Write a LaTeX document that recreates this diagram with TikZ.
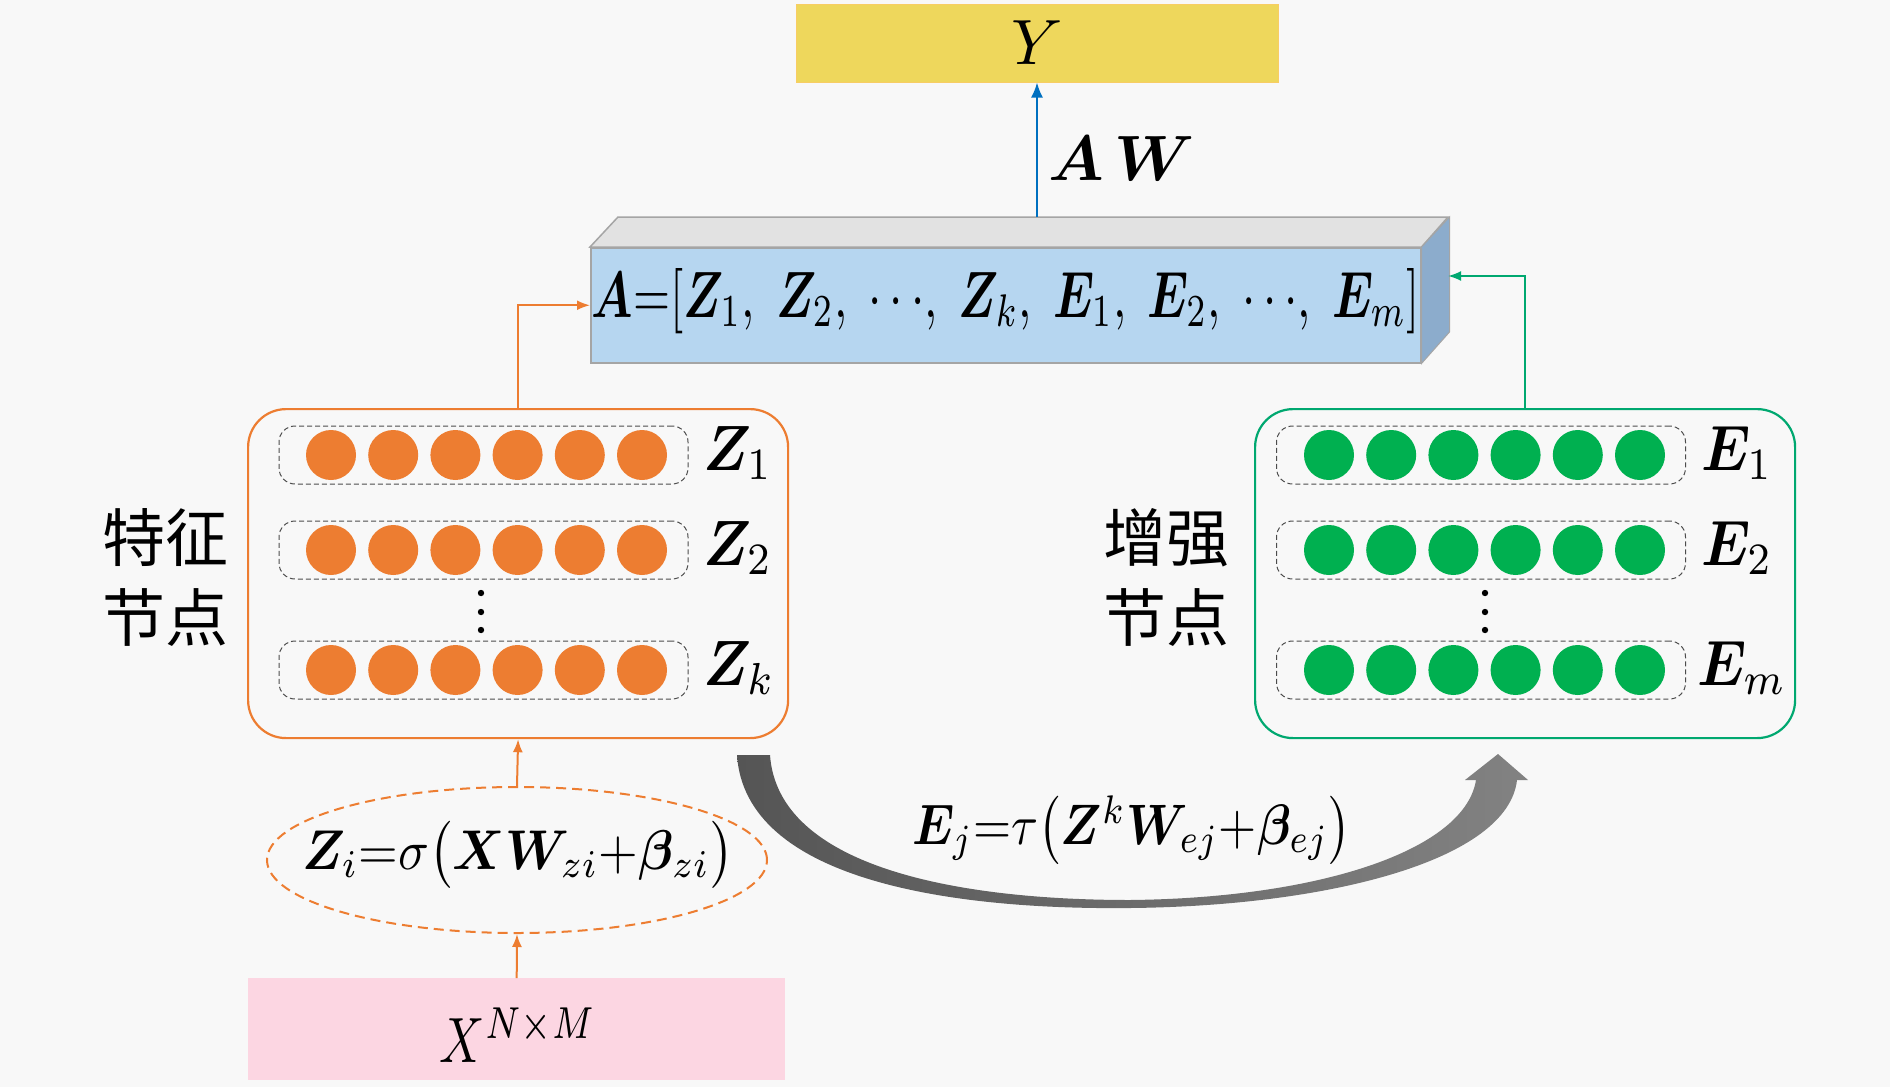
\documentclass[tikz,border=0pt]{standalone}
\usepackage{graphicx}
\usepackage{amsmath,bm}
\usepackage{fontspec}
\newfontfamily\cjk{Noto Sans CJK SC}
\usetikzlibrary{shapes.geometric,arrows.meta}
\newcommand{\mathL}[1]{\scalebox{5.7}[6.4]{$#1$}}
\newcommand{\mathN}[1]{\scalebox{6.4}{$#1$}}
\definecolor{bgc}{RGB}{248,248,248}
\definecolor{orangec}{RGB}{237,125,49}
\definecolor{greenc}{RGB}{0,176,80}
\definecolor{greenbord}{RGB}{0,168,112}
\definecolor{bluec}{RGB}{0,112,192}
\definecolor{yfill}{RGB}{238,215,92}
\definecolor{ybord}{RGB}{248,205,100}
\definecolor{pinkc}{RGB}{252,214,226}
\definecolor{frontc}{RGB}{182,214,240}
\definecolor{topc}{RGB}{226,226,226}
\definecolor{sidec}{RGB}{140,172,204}
\definecolor{edgec}{RGB}{165,165,165}
\definecolor{darkg}{RGB}{85,85,85}
\definecolor{lightg}{RGB}{130,130,130}
\begin{document}
\begin{tikzpicture}[x=1pt,y=-1pt,
  cjklabel/.style={font=\fontsize{63}{80}\selectfont\cjk, align=center},
  group/.style={line width=2.2pt, rounded corners=38pt, minimum width=540pt, minimum height=329pt, anchor=north west, inner sep=0pt},
  rowbox/.style={draw=black!70, dash pattern=on 5pt off 3pt, line width=1pt, rounded corners=16pt, minimum width=409pt, minimum height=58pt, inner sep=0pt},
  neuron/.style={circle, minimum size=50pt, inner sep=0pt},
  oarrow/.style={draw=orangec, line width=2pt, -{Latex[length=13pt,width=10pt]}},
  garrow/.style={draw=greenbord, line width=2pt, -{Latex[length=13pt,width=10pt]}},
  barrow/.style={draw=bluec, line width=2pt, -{Latex[length=15pt,width=12pt]}}
]
\fill[bgc] (0,0) rectangle (1890,1087);
\useasboundingbox (0,0) rectangle (1890,1087);

% Y box
\node[draw=ybord, fill=yfill, line width=1pt, minimum width=482pt, minimum height=78pt, inner sep=0pt] (Ybox) at (1037,43) {\mathN{Y}};

% A box (3D bar)
\node[fill=frontc, draw=edgec, line width=1.5pt, minimum width=830pt, minimum height=115pt, inner sep=0pt, anchor=north west] (Abox) at (590,247) {};
\filldraw[fill=topc, draw=edgec, line width=1.5pt] (Abox.north west) -- ++(28,-30) -- ++(830,0) -- (Abox.north east) -- cycle;
\filldraw[fill=sidec, draw=edgec, line width=1pt] (Abox.north east) -- ++(28,-30) -- ++(0,115) -- (Abox.south east) -- cycle;
\node[inner sep=0pt, anchor=base] (Atext) at (1006,317) {\resizebox{828pt}{49pt}{$\bm{A}{=}[\bm{Z}_1,\;\bm{Z}_2,\;{\cdots},\;\bm{Z}_k,\;\bm{E}_1,\;\bm{E}_2,\;{\cdots},\;\bm{E}_m]$}};
\coordinate (Atop) at (1037,217);
\coordinate (Aside) at (1448,276);

% AW
\draw[barrow] (Atop) -- (Ybox.south);
\node[anchor=base west, inner sep=0pt] (AW) at (1048,180) {\mathN{\bm{A}\,\bm{W}}};

% feature group
\node[group, draw=orangec] (feat) at (247,408) {};
\foreach \yy/\lab/\lx in {455/1/703, 550/2/703, 670/k/703} {
  \node[rowbox] (zr\lab) at (483.5,\yy) {};
  \foreach \i in {0,...,5} {
    \node[neuron, fill=orangec] (zc\lab\i) at ({331+62.2*\i},\yy) {};
  }
  \node[anchor=base west, inner sep=0pt] (zl\lab) at (\lx,\yy+15) {\mathL{\bm{Z}_{\lab}}};
}
\foreach \yy in {593,612,630} \fill (481,\yy) circle (3.2);
\node[cjklabel] (featlab) at (165,577) {特征\\节点};

% enhancement group
\node[group, draw=greenbord] (enh) at (1254,408) {};
\foreach \yy/\lab/\lx in {455/1/1701, 550/2/1701, 670/m/1697} {
  \node[rowbox] (er\lab) at (1481,\yy) {};
  \foreach \i in {0,...,5} {
    \node[neuron, fill=greenc] (ec\lab\i) at ({1329+62.2*\i},\yy) {};
  }
  \node[anchor=base west, inner sep=0pt] (el\lab) at (\lx,\yy+15) {\mathL{\bm{E}_{\lab}}};
}
\foreach \yy in {593,612,630} \fill (1485,\yy) circle (3.2);
\node[cjklabel] (enhlab) at (1166,577) {增强\\节点};

% connectors to A
\draw[oarrow] (feat.north) |- (Abox.west);
\draw[garrow] (enh.north) |- (Aside);

% ellipse
\node[ellipse, draw=orangec, dash pattern=on 10pt off 6pt, line width=2pt, minimum width=500pt, minimum height=146pt, inner sep=0pt] (ell) at (517,860) {};
\node[inner sep=0pt] (ellform) at (518,855) {\scalebox{5.1}[5.6]{$\bm{Z}_i{=}\sigma\bigl(\bm{X}\bm{W}_{zi}{+}\bm{\beta}_{zi}\bigr)$}};
\draw[oarrow] (ell.north) -- (feat.south);

% X box
\node[fill=pinkc, minimum width=537pt, minimum height=102pt, inner sep=0pt, anchor=north west] (Xbox) at (248,978) {};
\node[anchor=base, inner sep=0pt] (Xtext) at (518,1062) {\scalebox{5.0}[6.4]{$X^{N\times M}$}};
\draw[oarrow] (Xbox.north) -- (ell.south);

% gray curved arrow
\shade[left color=darkg, right color=lightg]
  (737,755) .. controls (745,880) and (950,910) .. (1130,908)
  .. controls (1330,906) and (1508,860) .. (1517,780)
  -- (1528,780) -- (1498,754) -- (1465,780) -- (1476,780)
  .. controls (1465,850) and (1320,898) .. (1130,900)
  .. controls (960,900) and (778,868) .. (770,755) -- cycle;
\node[inner sep=0pt] (Eform) at (1132,830) {\scalebox{4.9}[5.7]{$\bm{E}_j{=}\tau\bigl(\bm{Z}^k\bm{W}_{ej}{+}\bm{\beta}_{ej}\bigr)$}};
\end{tikzpicture}
\end{document}
